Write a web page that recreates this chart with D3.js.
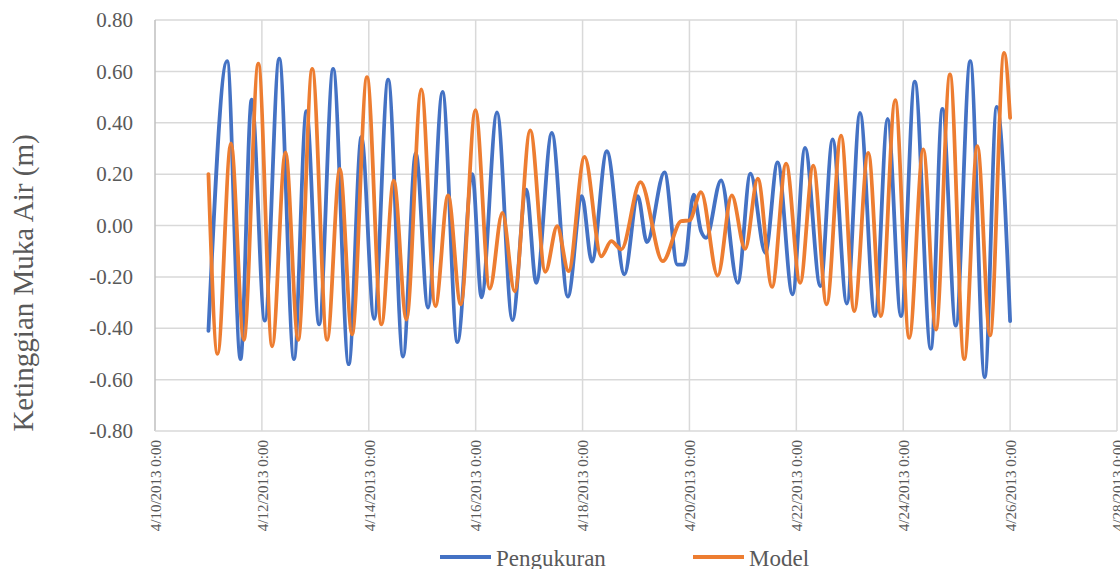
<!DOCTYPE html>
<html>
<head>
<meta charset="utf-8">
<script src="https://cdn.jsdelivr.net/npm/d3@7"></script>
<style>
  html, body { margin: 0; padding: 0; background: #fff; }
  svg { display: block; }
  svg text { font-family: "Times New Roman", "Liberation Serif", Tinos, "DejaVu Serif", serif; }
</style>
</head>
<body>
<div id="chart"></div>
<script>
// ----------------------
// Data (hours since 4/10/2013 0:00, water level in m)
// ----------------------
const pengukuranHours = [
  24, 32.4, 38.4, 43.4, 49.3, 55.8, 62.4, 68.0, 73.7, 80.0,
  87.0, 92.7, 98.4, 104.7, 111.4, 117.1, 122.6, 129.1, 135.8, 142.5,
  146.6, 153.6, 160.5, 166.7, 171.2, 178.2, 185.4, 191.7, 196.2, 202.9,
  210.8, 216.8, 220.9, 228.8, 234.6, 237.6, 241.9, 245.2, 247.5, 254.2,
  261.7, 267.4, 274.1, 279.6, 286.3, 291.9, 298.8, 304.3, 310.7, 316.6,
  323.3, 329.0, 335.0, 341.2, 348.4, 353.6, 359.6, 366.1, 372.6, 378.0,
  384
];
const pengukuranValues = [
  -0.41, 0.64, -0.52, 0.49, -0.37, 0.65, -0.52, 0.445, -0.385, 0.61,
  -0.54, 0.345, -0.363, 0.568, -0.51, 0.283, -0.32, 0.52, -0.454, 0.20,
  -0.28, 0.44, -0.368, 0.14, -0.223, 0.36, -0.277, 0.114, -0.141, 0.289,
  -0.19, 0.114, -0.065, 0.207, -0.152, -0.152, 0.12, -0.022, -0.048, 0.176,
  -0.223, 0.202, -0.106, 0.246, -0.268, 0.302, -0.236, 0.335, -0.304, 0.438,
  -0.353, 0.415, -0.353, 0.56, -0.48, 0.454, -0.39, 0.64, -0.59, 0.462,
  -0.372
];

const modelHours = [
  24, 28.1, 34.1, 39.9, 46.4, 52.6, 58.6, 64.3, 70.6, 77.3,
  83.0, 88.5, 95.2, 101.7, 107.2, 112.9, 119.6, 125.9, 131.6, 137.3,
  143.9, 150.3, 156.0, 161.5, 168.5, 175.3, 180.6, 185.7, 192.9, 200.4,
  204.9, 209.4, 218.0, 228.0, 236.3, 240.0, 245.2, 252.7, 259.0, 265.0,
  270.7, 277.1, 283.4, 289.7, 295.6, 301.6, 308.1, 314.0, 320.3, 326.0,
  332.4, 338.7, 345.0, 350.7, 357.0, 363.4, 369.3, 375.0, 381.3, 384
];
const modelValues = [
  0.20, -0.50, 0.32, -0.445, 0.63, -0.47, 0.285, -0.445, 0.61, -0.445,
  0.22, -0.424, 0.578, -0.385, 0.175, -0.366, 0.53, -0.314, 0.117, -0.307,
  0.449, -0.246, 0.049, -0.256, 0.37, -0.18, -0.003, -0.178, 0.267, -0.12,
  -0.061, -0.093, 0.169, -0.139, 0.017, 0.02, 0.13, -0.195, 0.117, -0.091,
  0.182, -0.239, 0.241, -0.223, 0.233, -0.307, 0.35, -0.333, 0.283, -0.353,
  0.488, -0.437, 0.296, -0.405, 0.588, -0.52, 0.309, -0.428, 0.672, 0.419
];

const xTickHours = [0, 48, 96, 144, 192, 240, 288, 336, 384, 432];
const xTickLabels = [
  "4/10/2013 0:00", "4/12/2013 0:00", "4/14/2013 0:00", "4/16/2013 0:00",
  "4/18/2013 0:00", "4/20/2013 0:00", "4/22/2013 0:00", "4/24/2013 0:00",
  "4/26/2013 0:00", "4/28/2013 0:00"
];
const yTicks = [-0.8, -0.6, -0.4, -0.2, 0, 0.2, 0.4, 0.6, 0.8];

const seriesNames = ["Pengukuran", "Model"];
const seriesColors = ["#4472C4", "#ED7D31"];

// ----------------------
// Layout
// ----------------------
const W = 1120, H = 569;
const plot = { left: 155, right: 1117, top: 20, bottom: 431 };

const svg = d3.select("#chart").append("svg")
  .attr("width", W)
  .attr("height", H);

const x = d3.scaleLinear()
  .domain([xTickHours[0], xTickHours[xTickHours.length - 1]])
  .range([plot.left, plot.right]);

const y = d3.scaleLinear()
  .domain([-0.8, 0.8])
  .range([plot.bottom, plot.top]);

// ----------------------
// Gridlines
// ----------------------
svg.append("g")
  .selectAll("line")
  .data(yTicks.filter(v => v > -0.8))
  .join("line")
  .attr("x1", plot.left).attr("x2", plot.right)
  .attr("y1", d => y(d)).attr("y2", d => y(d))
  .attr("stroke", "#d9d9d9")
  .attr("stroke-width", 1.5);

svg.append("g")
  .selectAll("line")
  .data(xTickHours.slice(1))
  .join("line")
  .attr("x1", d => x(d)).attr("x2", d => x(d))
  .attr("y1", plot.top).attr("y2", plot.bottom)
  .attr("stroke", "#d9d9d9")
  .attr("stroke-width", 1.5);

// axis lines
svg.append("line")
  .attr("x1", plot.left).attr("x2", plot.left)
  .attr("y1", plot.top).attr("y2", plot.bottom)
  .attr("stroke", "#bfbfbf").attr("stroke-width", 1.5);
svg.append("line")
  .attr("x1", plot.left).attr("x2", plot.right)
  .attr("y1", plot.bottom).attr("y2", plot.bottom)
  .attr("stroke", "#d9d9d9").attr("stroke-width", 1.5);

// ----------------------
// Axes (labels only)
// ----------------------
const yAxis = svg.append("g")
  .attr("transform", `translate(${plot.left},0)`)
  .call(d3.axisLeft(y)
    .tickValues(yTicks)
    .tickSize(0)
    .tickPadding(22)
    .tickFormat(d => d.toFixed(2)));
yAxis.attr("font-family", null);
yAxis.select(".domain").remove();
yAxis.selectAll("text")
  .attr("font-size", 21)
  .attr("fill", "#595959");

const xAxis = svg.append("g")
  .attr("transform", `translate(0,${plot.bottom})`)
  .call(d3.axisBottom(x)
    .tickValues(xTickHours)
    .tickSize(0)
    .tickFormat((d, i) => xTickLabels[i]));
xAxis.attr("font-family", null);
xAxis.select(".domain").remove();
xAxis.selectAll("text")
  .attr("transform", "rotate(-90)")
  .attr("x", -9)
  .attr("y", 0)
  .attr("dy", "0.35em")
  .style("text-anchor", "end")
  .attr("font-size", 15)
  .attr("fill", "#595959");

// y axis title
svg.append("text")
  .attr("transform", "translate(33,283) rotate(-90)")
  .attr("text-anchor", "middle")
  .attr("font-size", 29)
  .attr("fill", "#595959")
  .text("Ketinggian Muka Air (m)");

// ----------------------
// Lines
// ----------------------
const line = d3.line()
  .x(d => x(d[0]))
  .y(d => y(d[1]))
  .curve(d3.curveMonotoneX);

const series = [
  d3.zip(pengukuranHours, pengukuranValues),
  d3.zip(modelHours, modelValues)
];

series.forEach((pts, i) => {
  svg.append("path")
    .datum(pts)
    .attr("fill", "none")
    .attr("stroke", seriesColors[i])
    .attr("stroke-width", 3.8)
    .attr("stroke-linejoin", "round")
    .attr("stroke-linecap", "round")
    .attr("d", line);
});

// ----------------------
// Legend
// ----------------------
const legendX = [440, 693];
const legend = svg.append("g");
seriesNames.forEach((name, i) => {
  legend.append("line")
    .attr("x1", legendX[i]).attr("x2", legendX[i] + 51)
    .attr("y1", 557).attr("y2", 557)
    .attr("stroke", seriesColors[i])
    .attr("stroke-width", 3.8);
  legend.append("text")
    .attr("x", legendX[i] + 56)
    .attr("y", 566)
    .attr("font-size", 23)
    .attr("fill", "#595959")
    .text(name);
});
</script>
</body>
</html>
